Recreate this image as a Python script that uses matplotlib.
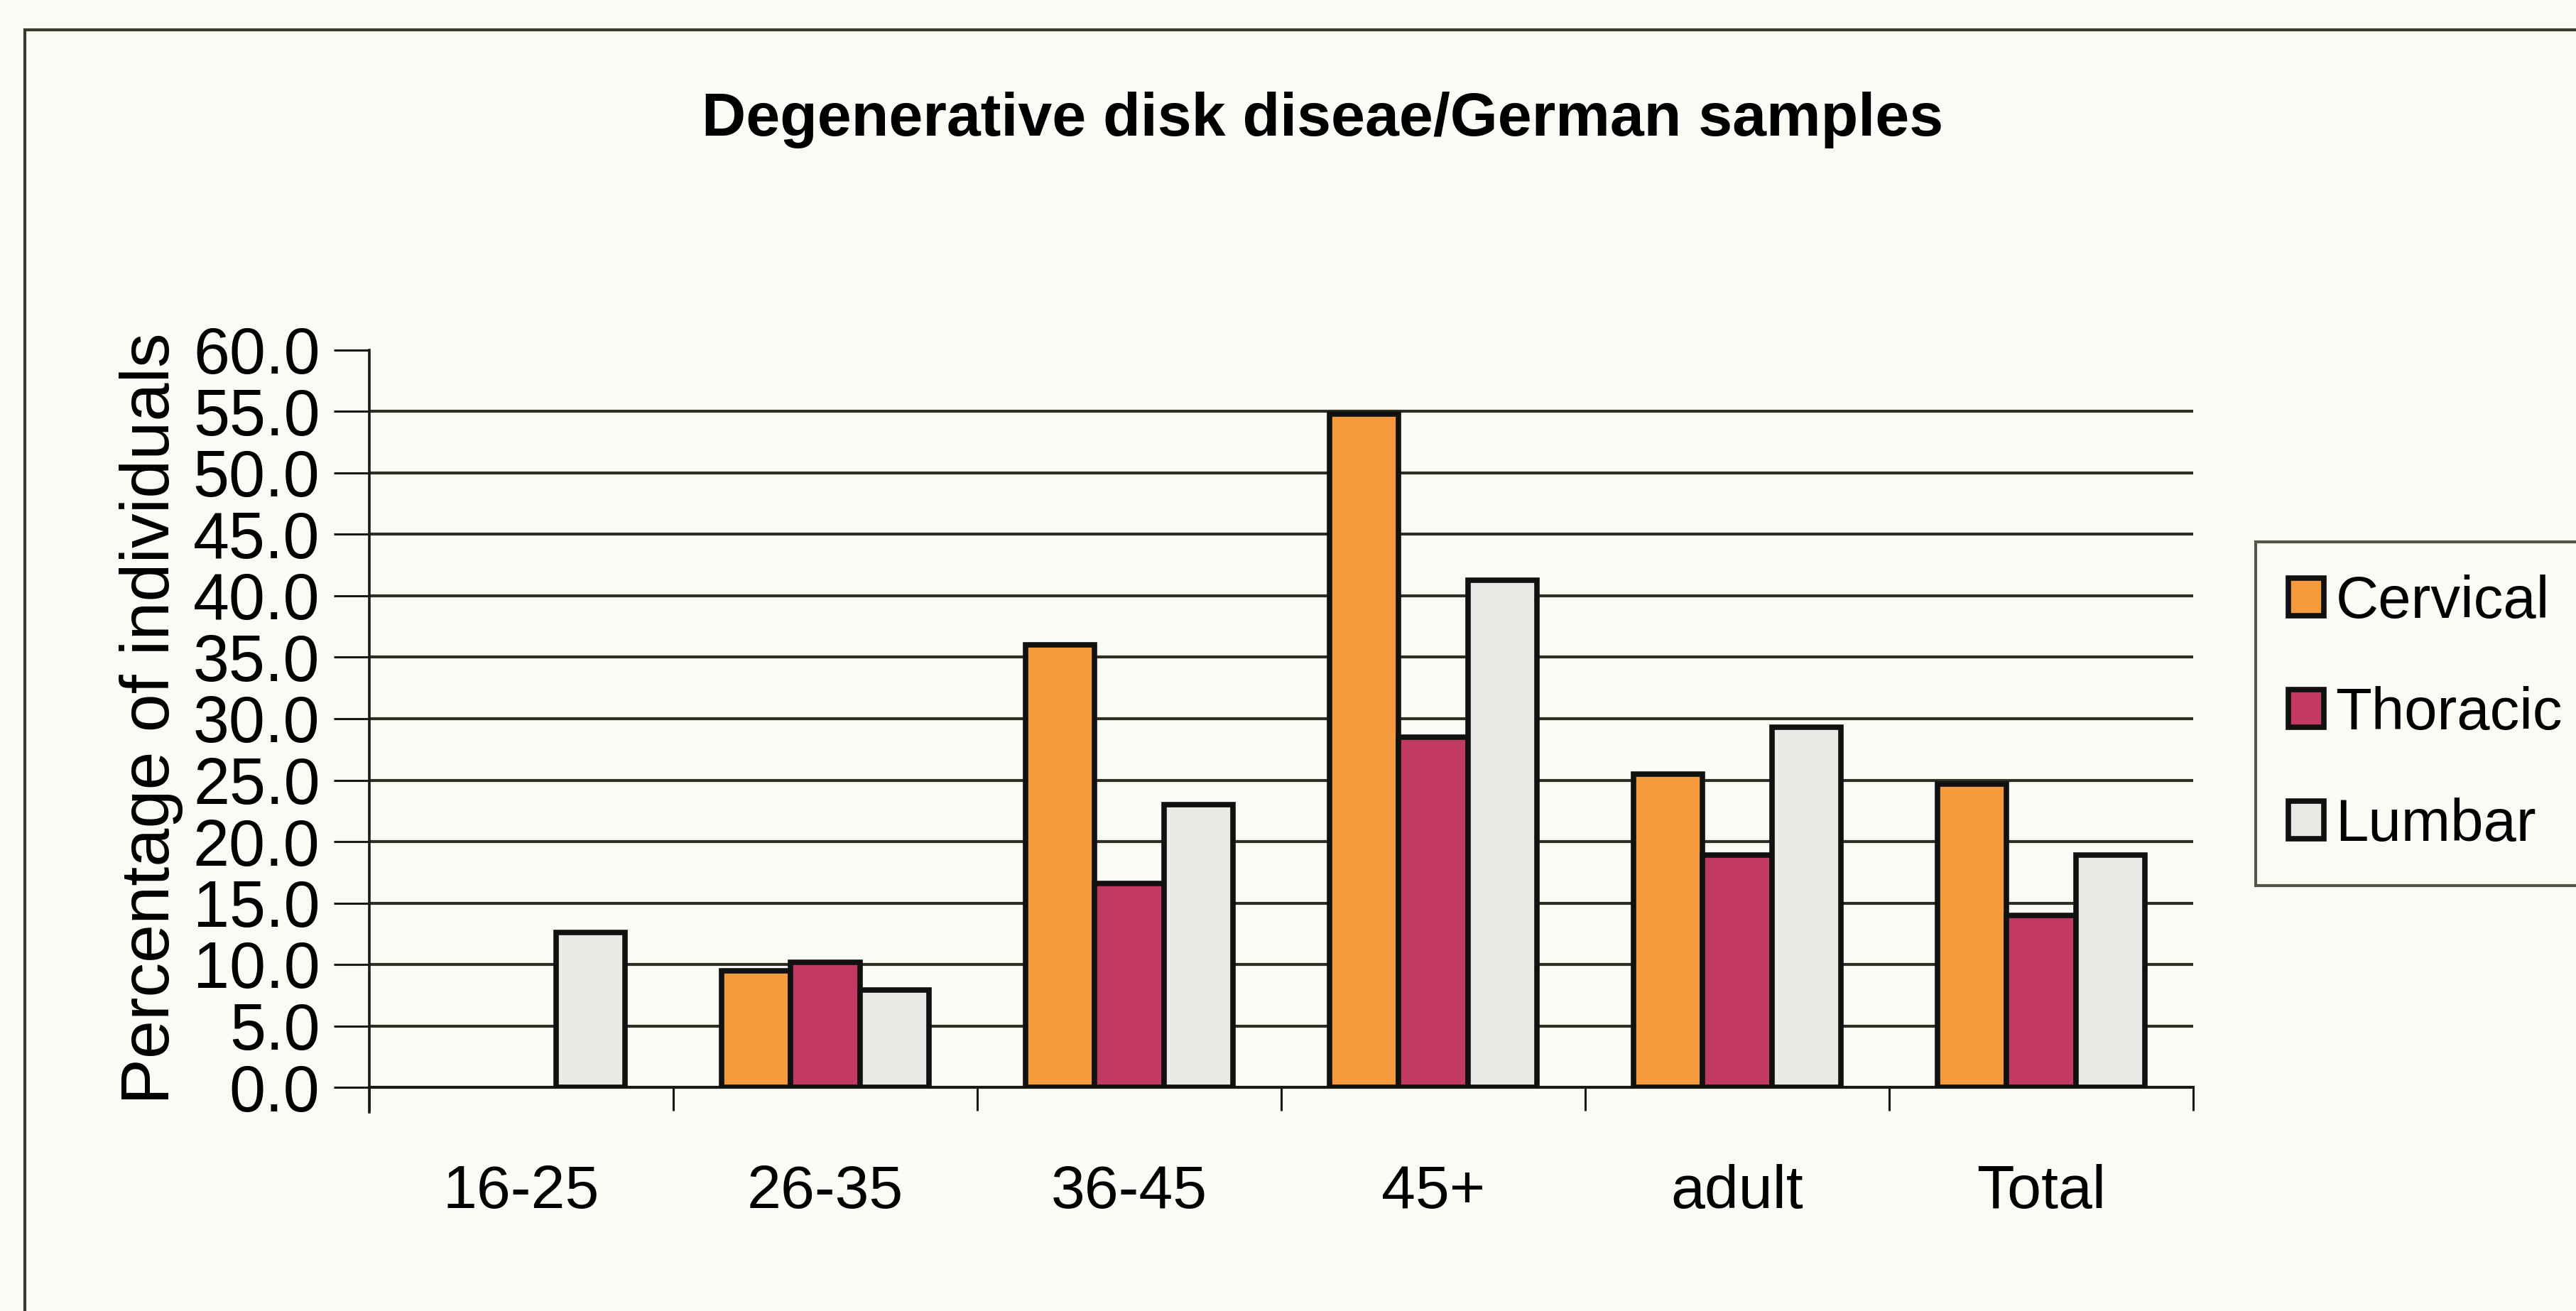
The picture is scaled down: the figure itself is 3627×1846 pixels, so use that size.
#!/usr/bin/env python3
"""Grouped bar chart: degenerative disk disease in German samples."""

import numpy as np
import matplotlib
matplotlib.use("Agg")
import matplotlib.pyplot as plt
from matplotlib.patches import Rectangle, Patch

categories = ["16-25", "26-35", "36-45", "45+", "adult", "Total"]
series_names = ["Cervical", "Thoracic", "Lumbar"]
cervical = [0.0, 9.5, 36.0, 54.8, 25.5, 24.7]
thoracic = [0.0, 10.2, 16.6, 28.5, 18.9, 14.0]
lumbar = [12.6, 7.9, 23.0, 41.3, 29.3, 18.9]
yticks = [0, 5, 10, 15, 20, 25, 30, 35, 40, 45, 50, 55, 60]

colors = ["#F59B3E", "#C23A62", "#E9E9E5"]
bg = "#FBFBF6"
ink = "#1A1A14"

plt.rcParams["font.family"] = ["Liberation Sans", "DejaVu Sans"]

W, H, DPI = 3627, 1846, 100
fig = plt.figure(figsize=(W / DPI, H / DPI), dpi=DPI, facecolor=bg)
ax = fig.add_axes([520 / W, 315 / H, (3088 - 520) / W, (1531 - 493) / H])
ax.set_facecolor(bg)

x = np.arange(len(categories))
width = 0.227
for i, vals in enumerate([cervical, thoracic, lumbar]):
    v = np.array(vals)
    keep = v > 0
    ax.bar(x[keep] + (i - 1) * width, v[keep], width=width, color=colors[i],
           edgecolor="#111", linewidth=5.5, zorder=3)

ax.set_xlim(-0.5, len(categories) - 0.5)
ax.set_ylim(0, 60)
ax.set_yticks(yticks)
ax.set_yticklabels([f"{t:.1f}" for t in yticks], fontsize=66)
for t in yticks[1:-1]:
    ax.axhline(t, color="#2E2E22", linewidth=3, zorder=1)

# category ticks sit on the boundaries, labels in between
ax.set_xticks(np.arange(len(categories) + 1) - 0.5)
ax.set_xticklabels([])
ax.set_xticks(x, minor=True)
ax.set_xticklabels(categories, minor=True, fontsize=62)
ax.tick_params(axis="x", which="major", direction="out", length=24, width=2.2, color=ink)
ax.tick_params(axis="x", which="minor", length=0, pad=78)
ax.tick_params(axis="y", direction="out", length=36, width=2.2, color=ink, pad=14)

for s in ["top", "right"]:
    ax.spines[s].set_visible(False)
ax.spines["left"].set_color(ink)
ax.spines["left"].set_linewidth(2.6)
ax.spines["left"].set_bounds(-2.0, 60)
ax.spines["bottom"].set_color(ink)
ax.spines["bottom"].set_linewidth(3)

ax.set_ylabel("Percentage of individuals", fontsize=70, labelpad=10)
fig.text(1862 / W, 1 - 169 / H, "Degenerative disk diseae/German samples",
         fontsize=62, fontweight="bold", ha="center", va="center")

handles = [Patch(facecolor=c, edgecolor="#111", linewidth=5.5) for c in colors]
leg = fig.legend(handles, series_names, loc="upper left",
                 bbox_to_anchor=(3176 / W, 1 - 763 / H), fontsize=60,
                 frameon=True, fancybox=False, handlelength=0.6, handleheight=0.6,
                 handletextpad=0.2, labelspacing=0.95, borderpad=0.55,
                 borderaxespad=0)
leg.get_frame().set_edgecolor("#2A2A1E")
leg.get_frame().set_linewidth(3)
leg.get_frame().set_facecolor(bg)

# outer chart frame, cut off on the right and bottom
fig.patches.append(Rectangle((35 / W, -0.2), 2, 1.2 - 42 / H, transform=fig.transFigure,
                             fill=False, edgecolor="#3A3A2E", linewidth=3))

fig.savefig("out.png", dpi=DPI, facecolor=bg)
